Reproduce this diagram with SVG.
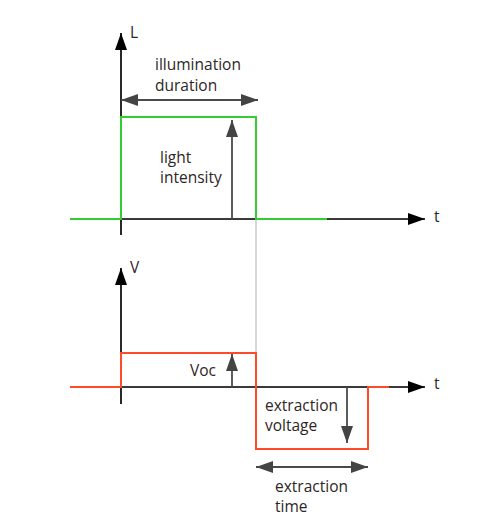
<svg xmlns="http://www.w3.org/2000/svg" width="496" height="531" viewBox="0 0 496 531">
<style>
.txt{font-family:"Open Sans","Liberation Sans",sans-serif;font-size:15.5px;fill:#2e2626}
.axis{stroke:#111;stroke-width:1.8;fill:none}
.haxis{stroke:#3a3a3a;stroke-width:1.8;fill:none}
.dim{stroke:#4a4a4a;stroke-width:1.8;fill:none}
.green{stroke:#33cc33;stroke-width:2;fill:none}
.red{stroke:#ff4a2a;stroke-width:2;fill:none}
</style>
<defs>
<marker id="axh" viewBox="0 0 17 12" refX="17" refY="6" markerWidth="17" markerHeight="12" markerUnits="userSpaceOnUse" orient="auto"><path d="M0,0 L17,6 L0,12 Z" fill="#000"/></marker>
<marker id="dimh" viewBox="0 0 17 12" refX="17" refY="6" markerWidth="17" markerHeight="12" markerUnits="userSpaceOnUse" orient="auto-start-reverse"><path d="M0,0 L17,6 L0,12 Z" fill="#444"/></marker>
</defs>
<rect width="496" height="531" fill="#fff"/>
<g id="connectors">
<line x1="256" y1="219" x2="256" y2="353" stroke="#c8c8c8" stroke-width="1.5"/>
</g>
<g id="top-plot">
<line class="axis" x1="121" y1="235" x2="121" y2="33" marker-end="url(#axh)"/>
<line class="haxis" x1="121" y1="219" x2="425" y2="219" marker-end="url(#axh)"/>
<path class="green" d="M70,219 H121 V117 H256 V219 H327"/>
<line class="dim" x1="121" y1="100" x2="258" y2="100" marker-start="url(#dimh)" marker-end="url(#dimh)"/>
<line class="dim" x1="232" y1="219" x2="232" y2="120" marker-end="url(#dimh)"/>
<text class="txt" x="130" y="38">L</text>
<text class="txt" x="434" y="222">t</text>
<text class="txt" x="155" y="70">illumination</text>
<text class="txt" x="155" y="91">duration</text>
<text class="txt" x="160" y="163">light</text>
<text class="txt" x="160" y="183">intensity</text>
</g>
<g id="bottom-plot">
<line class="axis" x1="121" y1="404" x2="121" y2="268" marker-end="url(#axh)"/>
<line class="haxis" x1="121" y1="387" x2="425" y2="387" marker-end="url(#axh)"/>
<path class="red" d="M70,387 H121 V353 H256 V449 H368 V387 H389"/>
<line class="dim" x1="232" y1="387" x2="232" y2="354" marker-end="url(#dimh)"/>
<line class="dim" x1="347" y1="387" x2="347" y2="443" marker-end="url(#dimh)"/>
<line class="dim" x1="256" y1="467" x2="368" y2="467" marker-start="url(#dimh)" marker-end="url(#dimh)"/>
<text class="txt" x="130" y="273">V</text>
<text class="txt" x="434" y="389">t</text>
<text class="txt" x="190" y="376">Voc</text>
<text class="txt" x="265" y="411">extraction</text>
<text class="txt" x="265" y="431">voltage</text>
<text class="txt" x="275" y="492">extraction</text>
<text class="txt" x="275" y="512">time</text>
</g>
</svg>
